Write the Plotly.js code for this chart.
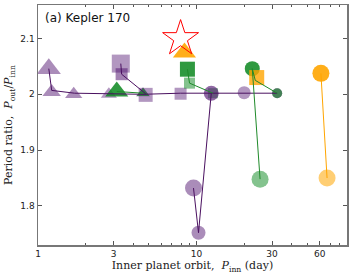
<!DOCTYPE html>
<html><head><meta charset="utf-8">
<script src="https://cdn.plot.ly/plotly-3.0.1.min.js"></script>
<style>html,body{margin:0;padding:0;background:#fff}#chart{width:353px;height:278px}</style>
</head><body><div id="chart"></div>
<script>
// Purple series
const purpleTriX = [1.17, 1.22, 1.68, 2.8, 4.6];
const purpleTriY = [2.046, 2.004, 2.0, 2.0, 2.002];
const purpleTriS = [21, 16, 15, 14, 12];
const purpleTriO = [0.5, 0.5, 0.5, 0.45, 0.6];
const purpleSqX = [3.33, 3.37, 4.78, 7.94];
const purpleSqY = [2.055, 2.036, 1.999, 2.001];
const purpleSqS = [18, 12, 14, 12];
const purpleSqO = [0.45, 0.55, 0.45, 0.45];
const purpleCirX = [12.4, 20.0, 9.58, 10.3, 32.3];
const purpleCirY = [2.002, 2.003, 1.832, 1.752, 2.002];
const purpleCirS = [15, 13, 17, 14, 10];
const purpleCirO = [0.65, 0.45, 0.5, 0.5, 0.6];
const purpleLineAX = [1.17, 1.22, 1.7, 2.8, 4.6, 7.94, 12.4, 20.0, 32.3];
const purpleLineAY = [2.046, 2.007, 2.002, 2.001, 2.0, 2.002, 2.002, 2.003, 2.002];
const purpleLineBX = [3.33, 3.37, 4.78];
const purpleLineBY = [2.055, 2.036, 2.001];
const purpleLineCX = [12.4, 10.3, 9.58];
const purpleLineCY = [2.002, 1.752, 1.832];
// Green series
const greenTriX = [3.14, 4.6];
const greenTriY = [2.005, 2.002];
const greenTriS = [20, 11];
const greenTriO = [0.85, 0.6];
const greenSqX = [8.77, 9.04, 12.7];
const greenSqY = [2.045, 2.02, 2.002];
const greenSqS = [15, 11, 10];
const greenSqO = [0.85, 0.5, 0.5];
const greenCirX = [22.5, 25.2, 32.3];
const greenCirY = [2.046, 1.848, 2.002];
const greenCirS = [15, 17, 10];
const greenCirO = [0.85, 0.5, 0.6];
const greenLineAX = [3.14, 4.6];
const greenLineAY = [2.005, 2.002];
const greenLineBX = [8.77, 9.04, 12.7];
const greenLineBY = [2.045, 2.02, 2.002];
const greenLineCX = [22.5, 23.5, 32.3];
const greenLineCY = [2.046, 2.025, 2.002];
const greenLineDX = [22.5, 25.2];
const greenLineDY = [2.046, 1.848];
// Orange series
const orangeTriX = [8.4];
const orangeTriY = [2.075];
const orangeSqX = [24.0];
const orangeSqY = [2.03];
const orangeCirX = [61, 66.7];
const orangeCirY = [2.0375, 1.85];
const orangeCirO = [0.9, 0.55];
const orangeLineX = [61, 66.7];
const orangeLineY = [2.0375, 1.85];
// Observed Kepler 170
const starX = [7.94];
const starY = [2.10];

const PUR = 'rgb(85,25,115)', PURL = '#4a1060';
const GRN = 'rgb(10,135,30)', GRNL = '#1f8a2a';
const ORA = 'rgb(255,165,0)', ORAL = '#ffa500';

function mk(x, y, sym, color, size, op) {
  return {x, y, type:'scatter', mode:'markers', hoverinfo:'skip',
    marker:{symbol:sym, color, size, opacity:op, line:{width:0}}};
}
function ln(x, y, color) {
  return {x, y, type:'scatter', mode:'lines', hoverinfo:'skip', line:{color, width:1}};
}
const traces = [
  mk(purpleTriX, purpleTriY, 'triangle-up', PUR, purpleTriS, purpleTriO),
  mk(purpleSqX, purpleSqY, 'square', PUR, purpleSqS, purpleSqO),
  mk(greenSqX, greenSqY, 'square', GRN, greenSqS, greenSqO),
  mk(purpleCirX, purpleCirY, 'circle', PUR, purpleCirS, purpleCirO),
  mk(greenTriX, greenTriY, 'triangle-up', GRN, greenTriS, greenTriO),
  mk(greenCirX, greenCirY, 'circle', GRN, greenCirS, greenCirO),
  mk(orangeTriX, orangeTriY, 'triangle-up', ORA, 20, 0.9),
  mk(orangeSqX, orangeSqY, 'square', ORA, 15, 0.8),
  mk(orangeCirX, orangeCirY, 'circle', ORA, 17, orangeCirO),
  ln(purpleLineAX, purpleLineAY, PURL),
  ln(purpleLineBX, purpleLineBY, PURL),
  ln(purpleLineCX, purpleLineCY, PURL),
  ln(greenLineAX, greenLineAY, GRNL),
  ln(greenLineBX, greenLineBY, GRNL),
  ln(greenLineCX, greenLineCY, GRNL),
  ln(greenLineDX, greenLineDY, GRNL),
  ln(orangeLineX, orangeLineY, ORAL),
  {x:starX, y:starY, type:'scatter', mode:'markers', hoverinfo:'skip',
   marker:{symbol:'star-open', size:27, color:'red', line:{color:'red', width:1}}}
];

const axBase = {showline:true, mirror:'ticks', linecolor:'#777', linewidth:1.5,
  ticks:'inside', ticklen:4, tickcolor:'#555', showgrid:false, zeroline:false,
  tickfont:{family:'DejaVu Sans', size:9, color:'#222'}};

const layout = {
  width:353, height:278, margin:{l:38, r:6, t:5, b:33},
  paper_bgcolor:'#fff', plot_bgcolor:'#fff', showlegend:false,
  xaxis: Object.assign({}, axBase, {type:'log', range:[0, 1.95],
    tickvals:[1,3,10,30,60], ticktext:['1','3','10','30','60'],
    minor:{tickvals:[2,4,5,6,7,8,9,20,40,50,70,80], ticks:'inside', ticklen:2, tickcolor:'#555'},
    title:{text:'Inner planet orbit,  <i>P</i><sub>inn</sub> (day)', standoff:2,
      font:{family:'DejaVu Serif', size:11, color:'#222'}}}),
  yaxis: Object.assign({}, axBase, {range:[1.73, 2.16],
    tickvals:[1.8,1.9,2.0,2.1], ticktext:['1.8','1.9','2','2.1'],
    title:{text:'Period ratio,  <i>P</i><sub>out</sub>/<i>P</i><sub>inn</sub>', standoff:5,
      font:{family:'DejaVu Serif', size:11, color:'#222'}}}),
  annotations:[{text:'(a) Kepler 170', xref:'paper', yref:'paper', x:0.015, y:0.985,
    xanchor:'left', yanchor:'top', showarrow:false,
    font:{family:'DejaVu Sans', size:12, color:'#111'}}]
};
Plotly.newPlot('chart', traces, layout, {displayModeBar:false, staticPlot:true});
</script></body></html>
